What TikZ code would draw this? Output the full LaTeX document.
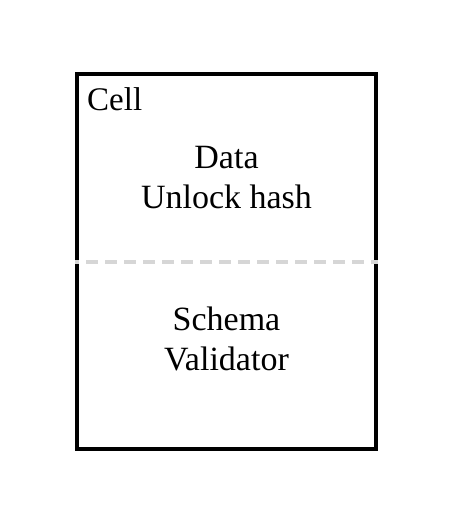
\documentclass[tikz,border=0pt]{standalone}
\usepackage{fontspec}
\setmainfont{Liberation Serif}
\tikzset{
  cellbox/.style={draw=black, line width=3.5pt, minimum width=299pt, minimum height=375pt, inner sep=0pt},
  divider/.style={draw={rgb,255:red,214;green,214;blue,214}, line width=4pt, dash pattern=on 12pt off 7pt, dash phase=8pt},
  lbl/.style={font=\fontsize{34}{40}\selectfont, inner sep=0pt, align=center},
}
\begin{document}
\begin{tikzpicture}[x=1pt,y=-1pt]
\useasboundingbox (0,0) rectangle (454,525);
\node[cellbox] (cell) at (226.5,261.5) {};
\draw[divider] (cell.west) -- (cell.east);
\node[lbl, anchor=base west, font=\fontsize{33}{40}\selectfont] (celllbl) at (87,110) {Cell};
\node[lbl, anchor=center] (top) at (226.5,178) {Data\\Unlock hash};
\node[lbl, anchor=center] (bottom) at (226.5,339) {Schema\\Validator};
\end{tikzpicture}
\end{document}
